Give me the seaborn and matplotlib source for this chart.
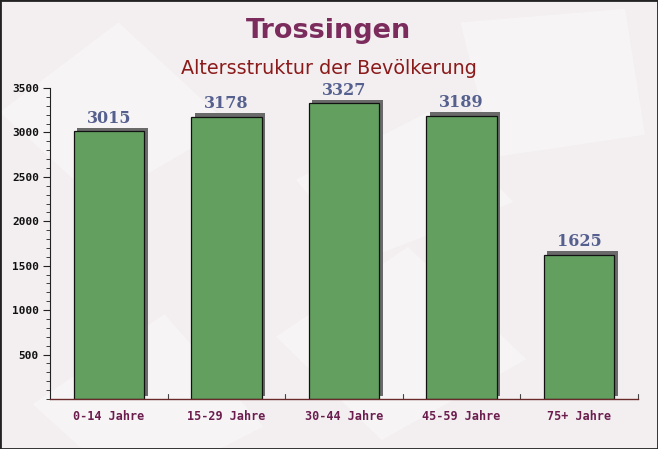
import matplotlib
matplotlib.use("Agg")
import matplotlib.pyplot as plt
import matplotlib.patheffects as pe
from matplotlib.ticker import MultipleLocator
from matplotlib.patches import Rectangle, Polygon
import seaborn as sns
import pandas as pd

categories = ["0-14 Jahre", "15-29 Jahre", "30-44 Jahre", "45-59 Jahre", "75+ Jahre"]
values = [3015, 3178, 3327, 3189, 1625]
title = "Trossingen"
subtitle = "Altersstruktur der Bevölkerung"

sns.set_style("white")
plt.rcParams['font.family'] = ['DejaVu Sans']

df = pd.DataFrame({"cat": categories, "val": values})

fig = plt.figure(figsize=(6.58, 4.49), dpi=100)
fig.patch.set_facecolor("#f3eff1")

# faint background shapes (envelope-like)
bg = fig.add_axes([0, 0, 1, 1], zorder=-10)
bg.set_xlim(0, 1); bg.set_ylim(0, 1); bg.axis("off")
shapes = [
    [(0.0, 0.75), (0.18, 0.95), (0.35, 0.72), (0.15, 0.55)],
    [(0.42, 0.25), (0.62, 0.45), (0.80, 0.20), (0.58, 0.02)],
    [(0.70, 0.95), (0.95, 0.98), (0.98, 0.70), (0.75, 0.65)],
    [(0.05, 0.10), (0.25, 0.30), (0.40, 0.05), (0.20, -0.1)],
    [(0.45, 0.60), (0.65, 0.75), (0.78, 0.55), (0.55, 0.42)],
]
for s in shapes:
    bg.add_patch(Polygon(s, closed=True, facecolor="#f9f7f8", edgecolor="none", alpha=0.7))
bg.add_patch(Rectangle((0, 0), 1, 1, transform=bg.transAxes, fill=False,
                       edgecolor="#222222", linewidth=2))

ax = fig.add_axes([50/658, 50/449, 588/658, 311/449])
ax.set_facecolor("none")
sns.barplot(data=df, x="cat", y="val", color="#63a060", saturation=1,
            width=0.6, edgecolor="#111111", linewidth=0.9, ax=ax)

for p in ax.patches:
    p.set_path_effects([pe.SimplePatchShadow(offset=(2.5, 2.5), shadow_rgbFace="#6a6a6a", alpha=1.0),
                        pe.Normal()])

for i, v in enumerate(values):
    ax.annotate(str(v), (i, v), xytext=(0, 3), textcoords="offset points",
                ha="center", va="bottom", fontsize=11.5, fontweight="bold",
                color="#55608e", family="DejaVu Serif")

ax.set_ylim(0, 3500)
ax.set_xlim(-0.5, 4.5)
ax.set_yticks([500, 1000, 1500, 2000, 2500, 3000, 3500])
ax.yaxis.set_minor_locator(MultipleLocator(100))
ax.set_xticks(range(5))
ax.set_xticklabels(categories)
ax.set_xlabel(""); ax.set_ylabel("")

for lab in ax.get_yticklabels():
    lab.set_family("DejaVu Sans Mono"); lab.set_fontweight("bold")
    lab.set_fontsize(8); lab.set_color("#111111")
for lab in ax.get_xticklabels():
    lab.set_family("DejaVu Sans Mono"); lab.set_fontweight("bold")
    lab.set_fontsize(8.5); lab.set_color("#6b1e4e")

ax.tick_params(axis="y", which="major", direction="out", length=5, width=0.8, color="#222222", pad=3, left=True)
ax.tick_params(axis="y", which="minor", direction="out", length=3, width=0.6, color="#222222", left=True)
ax.tick_params(axis="x", which="major", length=0, pad=8)

# category boundary ticks pointing up
for b in [0.5, 1.5, 2.5, 3.5, 4.5]:
    ax.plot([b, b], [0, 55], color="#444444", linewidth=0.8, clip_on=False)

for s in ["top", "right"]:
    ax.spines[s].set_visible(False)
ax.spines["left"].set_color("#222222")
ax.spines["left"].set_linewidth(0.8)
ax.spines["bottom"].set_color("#6b2a2a")
ax.spines["bottom"].set_linewidth(1.0)

fig.text(0.5, 1 - 31/449, title, ha="center", va="center", fontsize=19.5,
         fontweight="bold", color="#7b2b5c")
fig.text(0.5, 1 - 69/449, subtitle, ha="center", va="center", fontsize=13.8,
         color="#8b1a1a")

fig.savefig("out.png", dpi=100, facecolor=fig.get_facecolor())
